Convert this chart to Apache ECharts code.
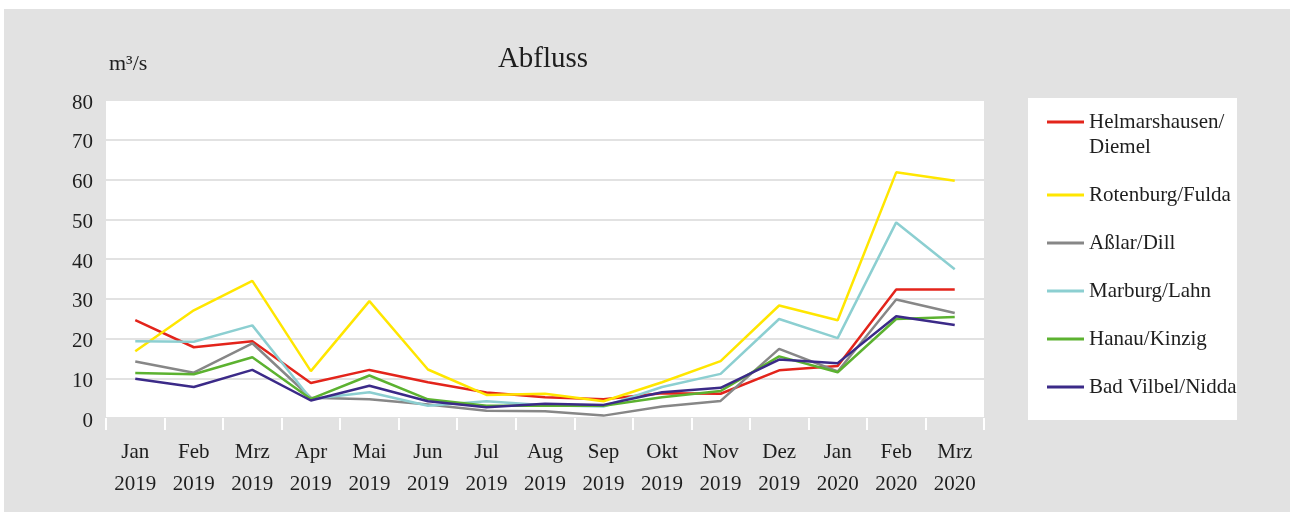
<!DOCTYPE html>
<html>
<head>
<meta charset="utf-8">
<title>Abfluss</title>
<script src="https://cdn.jsdelivr.net/npm/echarts@6/dist/echarts.min.js"></script>
<style>
  html, body { margin: 0; padding: 0; background: #ffffff; }
  #frame { position: absolute; left: 4px; top: 9px; width: 1286px; height: 503px; background: #e2e2e2; }
  #chart { position: absolute; left: 0; top: 0; width: 1290px; height: 512px; }
</style>
</head>
<body>
<div id="frame"></div>
<div id="chart"></div>
<script>
// Monthly mean discharge (m³/s) at six Hessian gauging stations
const months = ['Jan', 'Feb', 'Mrz', 'Apr', 'Mai', 'Jun', 'Jul', 'Aug', 'Sep', 'Okt', 'Nov', 'Dez', 'Jan', 'Feb', 'Mrz'];
const years = ['2019', '2019', '2019', '2019', '2019', '2019', '2019', '2019', '2019', '2019', '2019', '2019', '2020', '2020', '2020'];
const yTicks = [0, 10, 20, 30, 40, 50, 60, 70, 80];

const stationNames = ['Helmarshausen/ Diemel', 'Rotenburg/Fulda', 'Aßlar/Dill', 'Marburg/Lahn', 'Hanau/Kinzig', 'Bad Vilbel/Nidda'];
const helmarshausen = [24.6, 17.8, 19.3, 8.8, 12.1, 9.0, 6.4, 5.2, 4.7, 6.2, 6.1, 12.0, 13.1, 32.3, 32.3];
const rotenburg = [16.8, 27.1, 34.5, 11.8, 29.4, 12.2, 5.8, 6.1, 4.2, 9.0, 14.3, 28.3, 24.6, 61.8, 59.7];
const asslar = [14.2, 11.4, 18.8, 5.1, 4.7, 3.4, 1.8, 1.7, 0.6, 2.9, 4.3, 17.4, 11.7, 29.8, 26.4];
const marburg = [19.3, 19.2, 23.3, 4.8, 6.5, 3.1, 4.2, 3.2, 2.9, 7.8, 11.1, 24.9, 20.1, 49.2, 37.4];
const hanau = [11.3, 11.0, 15.3, 4.8, 10.7, 4.7, 3.1, 3.1, 3.1, 5.2, 6.8, 15.5, 11.5, 24.9, 25.4];
const badVilbel = [9.9, 7.8, 12.1, 4.4, 8.1, 4.2, 2.7, 3.6, 3.3, 6.5, 7.6, 14.7, 13.8, 25.6, 23.4];

const stationValues = [helmarshausen, rotenburg, asslar, marburg, hanau, badVilbel];
const stationColors = ['#e3241b', '#ffe600', '#878787', '#8ccfd1', '#5cb230', '#3b2a88'];

const FONT = 'Liberation Serif';
const TEXT = '#1e1e1e';

const categories = months.map((m, i) => m + '\n' + years[i]);

const chart = echarts.init(document.getElementById('chart'), null, { renderer: 'canvas' });

// Two-line station names: a blank leading line keeps the legend line beside the first text line
const legendLabel = name => name.indexOf('/ ') >= 0 ? '\u00a0\n' + name.replace('/ ', '/\n') : name;

chart.setOption({
  backgroundColor: 'transparent',
  animation: false,
  title: {
    text: 'Abfluss',
    left: 543,
    textAlign: 'center',
    top: 42,
    padding: 0,
    textStyle: { fontFamily: FONT, fontSize: 29, fontWeight: 'normal', color: TEXT, lineHeight: 34 }
  },
  graphic: [{
    type: 'rect',
    shape: { x: 1028, y: 98, width: 209, height: 322 },
    style: { fill: '#ffffff' },
    z: -1,
    silent: true
  }],
  legend: {
    orient: 'vertical',
    left: 1047,
    top: 84.5,
    padding: 0,
    itemWidth: 37,
    itemHeight: 3,
    itemGap: 23,
    icon: 'rect',
    data: stationNames,
    formatter: legendLabel,
    textStyle: { fontFamily: FONT, fontSize: 21, color: TEXT, lineHeight: 25 }
  },
  grid: {
    left: 106,
    top: 100,
    width: 878,
    height: 318,
    show: true,
    backgroundColor: '#ffffff',
    borderWidth: 0
  },
  xAxis: {
    type: 'category',
    data: categories,
    boundaryGap: true,
    axisLine: { show: false },
    axisTick: { show: true, length: 12, lineStyle: { color: '#ffffff', width: 2 } },
    axisLabel: {
      margin: 18,
      interval: 0,
      fontFamily: FONT,
      fontSize: 21,
      lineHeight: 32,
      color: TEXT
    },
    splitLine: { show: false }
  },
  yAxis: {
    type: 'value',
    min: yTicks[0],
    max: yTicks[yTicks.length - 1],
    interval: yTicks[1] - yTicks[0],
    name: 'm³/s',
    nameLocation: 'end',
    nameGap: 36,
    nameTextStyle: {
      fontFamily: FONT, fontSize: 22, color: TEXT,
      align: 'left', verticalAlign: 'middle', padding: [0, 0, 0, 3]
    },
    axisLine: { show: false },
    axisTick: { show: false },
    // labels sit slightly below their grid lines
    axisLabel: { margin: 13, fontFamily: FONT, fontSize: 21, color: TEXT, verticalAlign: 'top', lineHeight: 6 },
    splitLine: { lineStyle: { color: '#e2e2e2', width: 2 } }
  },
  series: stationNames.map((name, i) => ({
    name,
    type: 'line',
    data: stationValues[i],
    color: stationColors[i],
    symbol: 'none',
    smooth: false,
    lineStyle: { width: 2.5, color: stationColors[i] }
  }))
});
</script>
</body>
</html>
